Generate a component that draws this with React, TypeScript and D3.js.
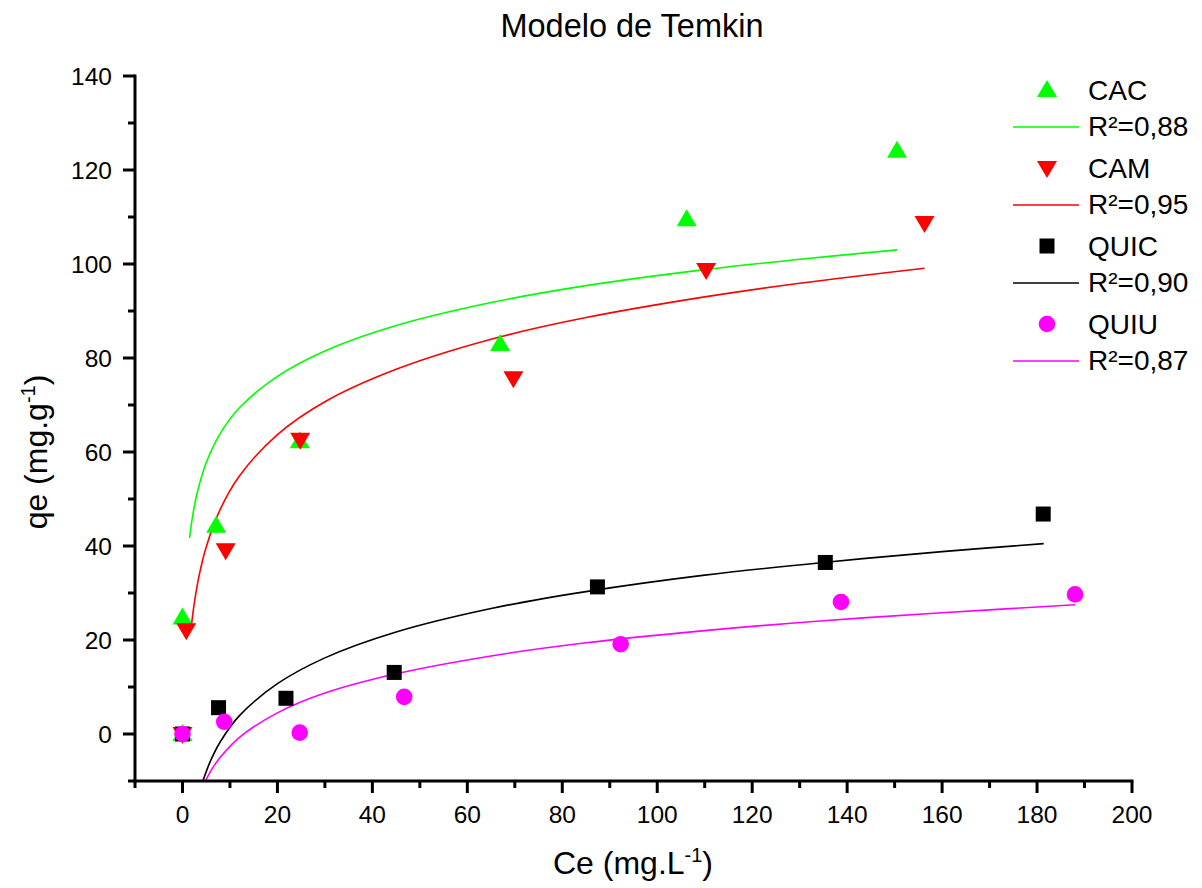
import React from 'react';
import * as d3 from 'd3';

// measured points (Ce, qe)
const cacCe = [0, 0, 7.1, 24.7, 66.9, 106.2, 150.5];
const cacQe = [0, 24.8, 44.3, 62.3, 83.0, 109.5, 124.1];
const camCe = [0, 0.8, 9.1, 24.8, 69.7, 110.3, 156.3];
const camQe = [0, 22.1, 39.1, 62.6, 75.7, 98.7, 108.7];
const quicCe = [0, 7.6, 21.8, 44.6, 87.4, 135.4, 181.3];
const quicQe = [0, 5.6, 7.6, 13.1, 31.3, 36.5, 46.8];
const quiuCe = [0, 8.8, 24.7, 46.7, 92.3, 138.7, 188.0];
const quiuQe = [0, 2.6, 0.3, 7.9, 19.1, 28.1, 29.7];

// Temkin fit curves
const cacFitCe = [1.5, 2, 3, 5, 8, 12, 20, 30, 45, 65, 85, 110, 130, 150.5];
const cacFitQe = [41.7, 45.5, 50.9, 57.7, 64.0, 69.4, 76.1, 81.5, 86.9, 91.8, 95.4, 98.8, 101.0, 103.0];
const camFitCe = [1.9, 2.5, 3.5, 5, 8, 12, 20, 30, 45, 65, 85, 110, 130, 156.3];
const camFitQe = [23.2, 27.9, 33.7, 39.8, 47.9, 54.9, 63.7, 70.7, 77.6, 84.0, 88.6, 93.0, 95.9, 99.1];
const quicFitCe = [4.3, 5, 6, 8, 12, 20, 30, 45, 65, 85, 110, 135, 160, 181.4];
const quicFitQe = [-10, -8.0, -5.5, -1.6, 3.9, 10.7, 16.2, 21.7, 26.7, 30.3, 33.8, 36.5, 38.8, 40.5];
const quiuFitCe = [4.85, 5.5, 6.5, 8, 12, 20, 30, 45, 65, 85, 110, 135, 160, 188];
const quiuFitQe = [-10, -8.7, -7.0, -4.9, -0.7, 4.5, 8.7, 12.8, 16.6, 19.4, 22.0, 24.1, 25.8, 27.5];

const seriesNames = ['CAC', 'CAM', 'QUIC', 'QUIU'];
const r2Labels = ['R²=0,88', 'R²=0,95', 'R²=0,90', 'R²=0,87'];
const seriesColors = ['#00ff00', '#ff0000', '#000000', '#ff00ff'];
const seriesShapes = ['up', 'down', 'square', 'circle'];

const xMajorTicks = [0, 20, 40, 60, 80, 100, 120, 140, 160, 180, 200];
const xMinorTicks = [-10, 10, 30, 50, 70, 90, 110, 130, 150, 170, 190];
const yMajorTicks = [0, 20, 40, 60, 80, 100, 120, 140];
const yMinorTicks = [-10, 10, 30, 50, 70, 90, 110, 130];

const W = 1202;
const H = 888;
const FONT = '"Liberation Sans", Arial, sans-serif';

const x = d3.scaleLinear().domain([-10, 200]).range([135, 1132]);
const y = d3.scaleLinear().domain([-10, 140]).range([781, 76]);

const pts = (xs: number[], ys: number[]) => xs.map((v, i) => [v, ys[i]] as [number, number]);

const points = [pts(cacCe, cacQe), pts(camCe, camQe), pts(quicCe, quicQe), pts(quiuCe, quiuQe)];
const fits = [pts(cacFitCe, cacFitQe), pts(camFitCe, camFitQe), pts(quicFitCe, quicFitQe), pts(quiuFitCe, quiuFitQe)];

const line = d3.line<[number, number]>()
    .x(d => x(d[0]))
    .y(d => y(d[1]))
    .curve(d3.curveCatmullRom.alpha(0.5));

const Marker: React.FC<{ shape: string; cx: number; cy: number; color: string }> = ({ shape, cx, cy, color }) => {
    if (shape === 'up') {
        return <path d={`M${cx},${cy - 10}L${cx + 10},${cy + 7}L${cx - 10},${cy + 7}Z`} fill={color} />;
    }
    if (shape === 'down') {
        return <path d={`M${cx},${cy + 10}L${cx + 10},${cy - 7}L${cx - 10},${cy - 7}Z`} fill={color} />;
    }
    if (shape === 'square') {
        return <rect x={cx - 7.5} y={cy - 7.5} width={15} height={15} fill={color} />;
    }
    return <circle cx={cx} cy={cy} r={8.3} fill={color} />;
};

export default function App() {
    const axisY = y(-10);
    const axisX = x(-10);
    return (
        <div style={{ position: 'fixed', left: 0, top: 0 }}>
            <svg width={W} height={H} style={{ display: 'block', background: '#fff' }} fontFamily={FONT}>
                <text x={632} y={37} fontSize={32.5} textAnchor="middle" fill="#000">Modelo de Temkin</text>

                {/* fitted curves */}
                {fits.map((f, i) => (
                    <path key={`f${i}`} d={line(f) || ''} fill="none" stroke={seriesColors[i]} strokeWidth={1.6} />
                ))}

                {/* data points */}
                {points.map((s, i) => (
                    <g key={`p${i}`}>
                        {s.map((d, j) => (
                            <Marker key={j} shape={seriesShapes[i]} cx={x(d[0])} cy={y(d[1])} color={seriesColors[i]} />
                        ))}
                    </g>
                ))}

                {/* x axis */}
                <g stroke="#000" strokeWidth={3}>
                    <line x1={axisX - 1.5} x2={x(200) + 1.5} y1={axisY} y2={axisY} />
                    {xMajorTicks.map(t => (
                        <line key={`xm${t}`} x1={x(t)} x2={x(t)} y1={axisY} y2={axisY + 12} />
                    ))}
                    {xMinorTicks.map(t => (
                        <line key={`xn${t}`} x1={x(t)} x2={x(t)} y1={axisY} y2={axisY + 7} />
                    ))}
                </g>
                {xMajorTicks.map(t => (
                    <text key={`xl${t}`} x={x(t)} y={axisY + 42} fontSize={24.5} textAnchor="middle" fill="#000">{t}</text>
                ))}

                {/* y axis */}
                <g stroke="#000" strokeWidth={3}>
                    <line x1={axisX} x2={axisX} y1={axisY + 1.5} y2={y(140) - 1.5} />
                    {yMajorTicks.map(t => (
                        <line key={`ym${t}`} x1={axisX - 12} x2={axisX} y1={y(t)} y2={y(t)} />
                    ))}
                    {yMinorTicks.map(t => (
                        <line key={`yn${t}`} x1={axisX - 7} x2={axisX} y1={y(t)} y2={y(t)} />
                    ))}
                </g>
                {yMajorTicks.map(t => (
                    <text key={`yl${t}`} x={112} y={y(t)} dy="0.35em" fontSize={24.5} textAnchor="end" fill="#000">{t}</text>
                ))}

                {/* axis titles */}
                <text x={633} y={874} fontSize={32} textAnchor="middle" fill="#000">
                    Ce (mg.L<tspan dy={-12} fontSize={20}>-1</tspan><tspan dy={12}>)</tspan>
                </text>
                <text transform="translate(47,452) rotate(-90)" fontSize={32} textAnchor="middle" fill="#000">
                    qe (mg.g<tspan dy={-12} fontSize={20}>-1</tspan><tspan dy={12}>)</tspan>
                </text>

                {/* legend */}
                {seriesNames.map((name, i) => {
                    const top = 90 + i * 78;
                    return (
                        <g key={`lg${i}`}>
                            <Marker shape={seriesShapes[i]} cx={1047} cy={top} color={seriesColors[i]} />
                            <text x={1088} y={top + 10} fontSize={28} fill="#000">{name}</text>
                            <line x1={1013} x2={1079} y1={top + 37} y2={top + 37} stroke={seriesColors[i]} strokeWidth={1.6} />
                            <text x={1088} y={top + 46} fontSize={28} fill="#000">{r2Labels[i]}</text>
                        </g>
                    );
                })}
            </svg>
        </div>
    );
}
